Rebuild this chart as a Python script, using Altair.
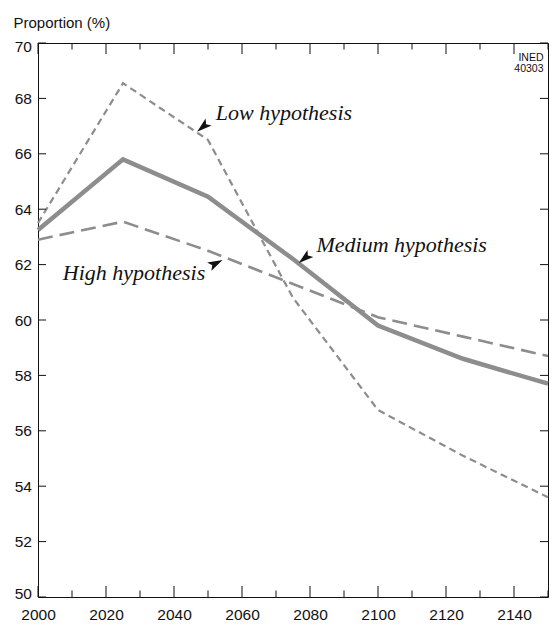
import altair as alt
import pandas as pd

# ---- data ----
years = [2000, 2025, 2050, 2075, 2100, 2125, 2150]
medium = [63.25, 65.8, 64.45, 62.2, 59.8, 58.6, 57.7]
high = [62.9, 63.55, 62.5, 61.3, 60.1, 59.4, 58.7]
low = [63.5, 68.55, 66.5, 60.8, 56.75, 55.1, 53.6]

x_major = list(range(2000, 2141, 20))
x_minor = list(range(2010, 2151, 20))
y_ticks = list(range(50, 71, 2))

ann_text = ["Low hypothesis", "Medium hypothesis", "High hypothesis"]
ann_text_year = [2052.3, 2081.9, 2007.3]
ann_text_val = [67.23, 62.45, 61.45]
ann_tip_year = [2046.8, 2076.7, 2054.3]
ann_tip_val = [66.8, 62.06, 62.17]
ann_angle = [320, 321, 153]

source_note = ["INED", "40303"]

# ---- layout ----
W, H = 510, 554
SANS = "Liberation Sans, Arial, Helvetica, sans-serif"
SERIF = "Liberation Serif, Times New Roman, serif"
GREY = "#8d8d8d"
INK = "#111"

xs = alt.Scale(domain=[2000, 2150], nice=False, zero=False)
ys = alt.Scale(domain=[50, 70], nice=False, zero=False)

x_axis = alt.Axis(values=x_major, format="d", ticks=False, domain=False,
                  grid=False, labelFont=SANS, labelFontSize=15.5,
                  labelColor=INK, labelPadding=10, labelFlush=False, title=None)
y_axis = alt.Axis(values=y_ticks, format="d", ticks=False, domain=False,
                  grid=False, labelFont=SANS, labelFontSize=15.5,
                  labelColor=INK, labelPadding=6.5, labelFlush=True,
                  labelFlushOffset=4,
                  title="Proportion (%)", titleAngle=0, titleAlign="left",
                  titleBaseline="alphabetic", titleX=-25, titleY=-16,
                  titleFont=SANS, titleFontSize=15, titleFontWeight="normal",
                  titleColor=INK)

def X(field):
    return alt.X(field, type="quantitative", scale=xs, axis=x_axis)

def Y(field):
    return alt.Y(field, type="quantitative", scale=ys, axis=y_axis)

df = pd.concat([
    pd.DataFrame({"year": years, "value": medium, "series": "Medium"}),
    pd.DataFrame({"year": years, "value": high, "series": "High"}),
    pd.DataFrame({"year": years, "value": low, "series": "Low"}),
])
base = alt.Chart(df)

medium_line = base.transform_filter(alt.datum.series == "Medium").mark_line(
    color=GREY, strokeWidth=4.5, strokeJoin="miter"
).encode(x=X("year"), y=Y("value"))

high_line = base.transform_filter(alt.datum.series == "High").mark_line(
    color=GREY, strokeWidth=2.6, strokeDash=[15, 7]
).encode(x=X("year"), y=Y("value"))

low_line = base.transform_filter(alt.datum.series == "Low").mark_line(
    color=GREY, strokeWidth=2.2, strokeDash=[7, 4.5]
).encode(x=X("year"), y=Y("value"))

# inward ticks drawn as rules
bx_major = alt.Chart(pd.DataFrame({"t": x_major}))
bx_minor = alt.Chart(pd.DataFrame({"t": x_minor}))
by = alt.Chart(pd.DataFrame({"t": y_ticks}))
tick_style = dict(color=INK, strokeWidth=1)

bottom_major = bx_major.mark_rule(**tick_style).encode(x=X("t"), y=alt.value(H), y2=alt.value(H - 11))
bottom_minor = bx_minor.mark_rule(**tick_style).encode(x=X("t"), y=alt.value(H), y2=alt.value(H - 6.5))
top_major = bx_major.mark_rule(**tick_style).encode(x=X("t"), y=alt.value(0), y2=alt.value(11))
top_minor = bx_minor.mark_rule(**tick_style).encode(x=X("t"), y=alt.value(0), y2=alt.value(6.5))
left_ticks = by.mark_rule(**tick_style).encode(y=Y("t"), x=alt.value(0), x2=alt.value(8))
right_ticks = by.mark_rule(**tick_style).encode(y=Y("t"), x=alt.value(W), x2=alt.value(W - 8))

ann_df = pd.DataFrame({
    "label": ann_text, "tx": ann_text_year, "ty": ann_text_val,
    "ax": ann_tip_year, "ay": ann_tip_val, "angle": ann_angle,
})

ann_labels = alt.Chart(ann_df).mark_text(
    align="left", baseline="alphabetic", font=SERIF, fontStyle="italic",
    fontSize=22, color=INK
).encode(x=X("tx"), y=Y("ty"), text="label:N")

arrows = alt.Chart(ann_df).mark_point(
    shape="M0,0L2,-0.62L1.55,0L2,0.62Z", filled=True, color=INK,
    opacity=1, size=225, strokeWidth=0
).encode(x=X("ax"), y=Y("ay"), angle=alt.Angle("angle:Q", scale=None))

note = alt.Chart(pd.DataFrame({"a": [0]})).mark_text(
    align="right", baseline="alphabetic", font=SANS, fontSize=10.5,
    lineHeight=11.3, color=INK
).encode(x=alt.value(W - 4.5), y=alt.value(17.5), text=alt.value(source_note))

chart = alt.layer(
    medium_line, high_line, low_line,
    bottom_major, bottom_minor, top_major, top_minor, left_ticks, right_ticks,
    ann_labels, arrows, note,
).properties(
    width=W, height=H,
    autosize=alt.AutoSizeParams(type="none"),
    padding={"left": 30, "top": 35, "right": 1, "bottom": 24},
    background="white",
).configure_view(stroke=INK, strokeWidth=1)

chart.save("out.html", embed_options={"renderer": "svg", "actions": False})
